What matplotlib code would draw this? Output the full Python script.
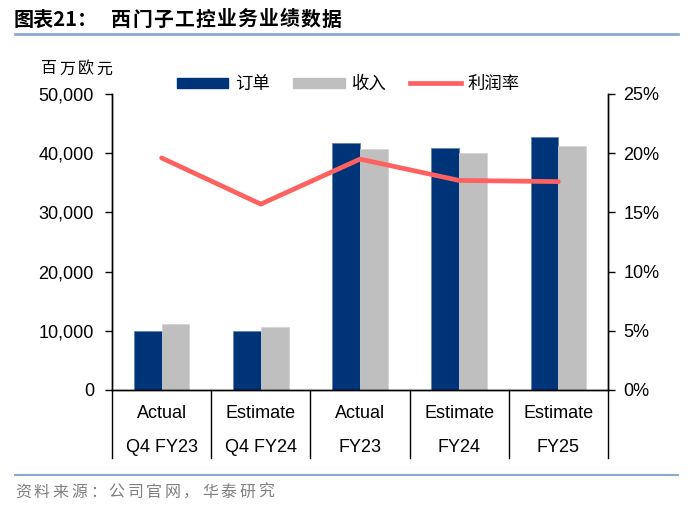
import matplotlib
matplotlib.use("Agg")
import matplotlib.pyplot as plt
from matplotlib.lines import Line2D
from matplotlib.patches import Patch
import matplotlib.transforms as mtransforms

plt.rcParams['font.family'] = ['Liberation Sans', 'Noto Sans CJK SC', 'DejaVu Sans']

categories_top = ["Actual", "Estimate", "Actual", "Estimate", "Estimate"]
categories_bottom = ["Q4 FY23", "Q4 FY24", "FY23", "FY24", "FY25"]
orders = [10000, 10000, 41800, 40800, 42700]
revenue = [11200, 10650, 40650, 40000, 41200]
margin = [19.6, 15.7, 19.5, 17.7, 17.6]
legend_labels = ["订单", "收入", "利润率"]
title_prefix = "图表21："
title_main = "西门子工控业务业绩数据"
unit_label = "百万欧元"
source_text = "资料来源：公司官网，华泰研究"

NAVY = "#003478"
GRAY = "#BFBFBF"
RED = "#FF6161"
RULE = "#8DA9CB"

W, H = 700, 508
fig = plt.figure(figsize=(7.0, 5.08), dpi=100)


def fx(px):
    return px / W


def fy(py):
    return 1 - py / H


def spaced_text(x_px, y_px, s, pitch, **kw):
    for i, ch in enumerate(s):
        fig.text(fx(x_px + i * pitch), fy(y_px), ch, ha='left', va='center', **kw)


ax = fig.add_axes([fx(112), fy(390), (608 - 112) / W, (390 - 94) / H])
ax2 = ax.twinx()

x = list(range(len(orders)))
w = 0.28
ax.bar([i - w/2 for i in x], orders, width=w, color=NAVY, edgecolor="#5A7FB0", linewidth=0.5, zorder=2)
ax.bar([i + w/2 for i in x], revenue, width=w, color=GRAY, edgecolor="#D0D0D0", linewidth=0.5, zorder=2)
ax2.plot(x, margin, color=RED, linewidth=3.4, solid_capstyle='round', zorder=3)

ax.set_xlim(-0.5, len(orders) - 0.5)
ax.set_ylim(0, 50000)
ax2.set_ylim(0, 25)
ax.set_yticks(range(0, 50001, 10000))
ax.set_yticklabels([f"{v:,}" for v in range(0, 50001, 10000)], fontsize=13)
ax2.set_yticks(range(0, 26, 5))
ax2.set_yticklabels([f"{v}%" for v in range(0, 26, 5)], fontsize=13)
ax.set_xticks([])
for a in (ax, ax2):
    a.spines['top'].set_visible(False)
    for s in a.spines.values():
        s.set_linewidth(1.0)
        s.set_color("black")
ax.tick_params(axis='y', direction='out', length=5, width=1, pad=8)
ax2.tick_params(axis='y', direction='out', length=5, width=1, pad=6)

trans = mtransforms.blended_transform_factory(ax.transData, ax.transAxes)
sep_bottom = -(458 - 390) / 296
for b in [i - 0.5 for i in range(len(orders) + 1)]:
    ax.add_line(Line2D([b, b], [0, sep_bottom], transform=trans, color="black", linewidth=1.0, clip_on=False))
for i in x:
    ax.text(i, -(413 - 390) / 296, categories_top[i], transform=trans, ha='center', va='center', fontsize=13)
    ax.text(i, -(448 - 390) / 296, categories_bottom[i], transform=trans, ha='center', va='center', fontsize=13)

# Title and rules
cjk = ['Noto Sans CJK SC']
fig.text(fx(14), fy(19), title_prefix, fontsize=14.5, fontweight='bold', family=cjk, ha='left', va='center')
spaced_text(111, 19, title_main, 21.1, fontsize=14.3, fontweight='bold', family=cjk)
fig.add_artist(Line2D([fx(15), fx(678)], [fy(33.5), fy(33.5)], color=RULE, linewidth=2))
fig.add_artist(Line2D([fx(15), fx(678)], [fy(474.5), fy(474.5)], color=RULE, linewidth=1.5))
spaced_text(15, 492, source_text, 18.7, fontsize=11.5, color="#808080", family=cjk)
spaced_text(41, 69, unit_label, 18.3, fontsize=11.5, family=cjk)

handles = [Patch(facecolor=NAVY, edgecolor=NAVY), Patch(facecolor=GRAY, edgecolor=GRAY),
           Line2D([0], [0], color=RED, linewidth=3.4)]
fig.legend(handles, legend_labels, loc='center left', bbox_to_anchor=(fx(177), fy(84)), ncol=3,
           frameon=False, prop={'family': cjk, 'size': 12.5}, borderpad=0, borderaxespad=0,
           handlelength=2.95, handleheight=0.52, columnspacing=1.35, handletextpad=0.4)

fig.savefig("out.png", dpi=100)
